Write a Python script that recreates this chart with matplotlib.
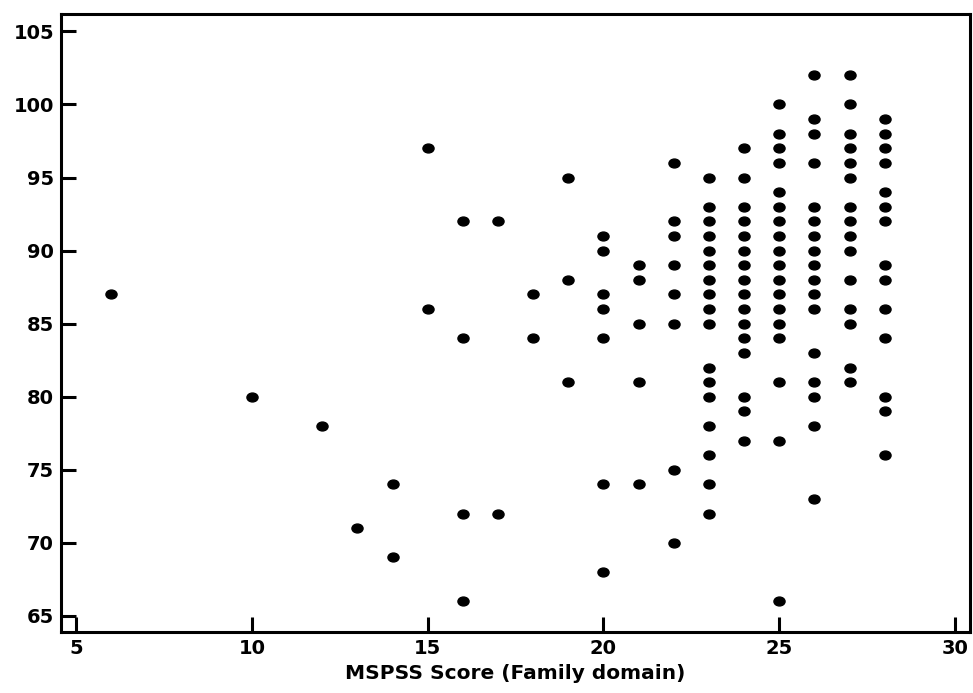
import matplotlib
matplotlib.use("Agg")
import matplotlib.pyplot as plt
from matplotlib.path import Path
from matplotlib.transforms import Affine2D
import numpy as np

# MSPSS family score -> list of outcome scores observed at that score
score_cols = [6, 10, 12, 13, 14, 15, 16, 17, 18, 19, 20, 21, 22, 23, 24, 25, 26, 27, 28]
values_6 = [87]
values_10 = [80]
values_12 = [78]
values_13 = [71]
values_14 = [74, 69]
values_15 = [97, 86]
values_16 = [92, 84, 72, 66]
values_17 = [92, 72]
values_18 = [87, 84]
values_19 = [95, 88, 81]
values_20 = [91, 90, 87, 86, 84, 74, 68]
values_21 = [89, 88, 85, 81, 74]
values_22 = [96, 92, 91, 89, 87, 85, 75, 70]
values_23 = [95, 93, 92, 91, 90, 89, 88, 87, 86, 85, 82, 81, 80, 78, 76, 74, 72]
values_24 = [97, 95, 93, 92, 91, 90, 89, 88, 87, 86, 85, 84, 83, 80, 79, 77]
values_25 = [100, 98, 97, 96, 94, 93, 92, 91, 90, 89, 88, 87, 86, 85, 84, 81, 77, 66]
values_26 = [102, 99, 98, 96, 93, 92, 91, 90, 89, 88, 87, 86, 83, 81, 80, 78, 73]
values_27 = [102, 100, 98, 97, 96, 95, 93, 92, 91, 90, 88, 86, 85, 82, 81]
values_28 = [99, 98, 97, 96, 94, 93, 92, 89, 88, 86, 84, 80, 79, 76]

all_values = [values_6, values_10, values_12, values_13, values_14, values_15,
              values_16, values_17, values_18, values_19, values_20, values_21,
              values_22, values_23, values_24, values_25, values_26, values_27,
              values_28]

x_ticks = [5, 10, 15, 20, 25, 30]
y_ticks = [65, 70, 75, 80, 85, 90, 95, 100, 105]

xs = []
ys = []
for s, vals in zip(score_cols, all_values):
    for v in vals:
        xs.append(s)
        ys.append(v)

# slightly flattened dot
circle = Path.unit_circle()
oval = circle.transformed(Affine2D().scale(1.0, 0.8))

fig = plt.figure(figsize=(9.73, 6.93), dpi=100)
ax = fig.add_axes([0.0627, 0.088, 0.9343, 0.892])
ax.plot(xs, ys, linestyle='none', marker=oval, markersize=8.0, color='black')

ax.set_xlim(4.57, 30.43)
ax.set_ylim(63.9, 106.2)
ax.set_xticks(x_ticks)
ax.set_yticks(y_ticks)
for sp in ax.spines.values():
    sp.set_linewidth(2.2)
ax.tick_params(direction='in', length=11, width=2.2, labelsize=14, pad=5)
for lab in ax.get_xticklabels() + ax.get_yticklabels():
    lab.set_fontweight('bold')
ax.set_xlabel('MSPSS Score (Family domain)', fontsize=14.5, fontweight='bold', labelpad=4)

fig.savefig('out.png', dpi=100)
